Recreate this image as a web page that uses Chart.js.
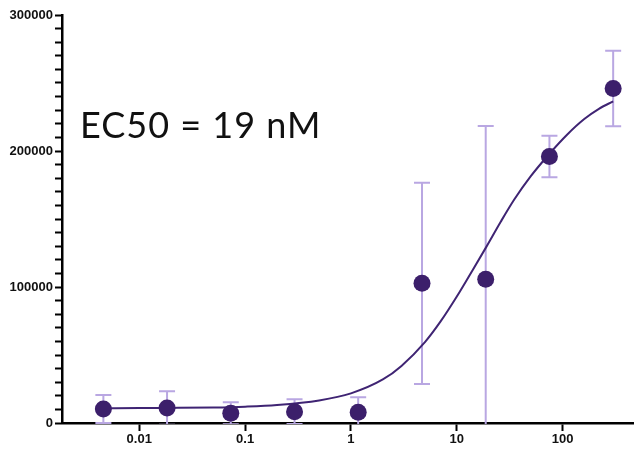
<!DOCTYPE html>
<html>
<head>
<meta charset="utf-8">
<script src="https://cdn.jsdelivr.net/npm/chart.js@4.4.1/dist/chart.umd.min.js"></script>
<style>
  html, body { margin: 0; padding: 0; background: #fff; }
  #wrap { width: 634px; height: 451px; }
</style>
</head>
<body>
<div id="wrap"><canvas id="chart" width="634" height="451"></canvas></div>
<script>
// ====== DATA ======
const concentrations = [0.00458, 0.0183, 0.0732, 0.293, 1.17, 4.69, 18.75, 75, 300];   // nM
const meanSignal     = [10300, 11000, 7100, 8300, 7900, 102700, 105700, 196000, 246000];
const errSignal      = [10300, 12300, 8100, 9100, 11000, 74000, 112700, 15300, 27800];

// fitted curve
const fitX = [0.00458, 0.01, 0.02, 0.05, 0.1, 0.2, 0.5, 1, 2, 3, 5, 7, 10, 14, 19, 26, 35, 50, 75, 110, 160, 220, 300];
const fitY = [10900, 11000, 11100, 11400, 12000, 13200, 16600, 21800, 32000, 42000, 59500, 74500, 93000,
              112000, 129500, 148000, 164500, 181500, 198000, 212000, 223500, 231000, 236500];

const xTickValues = [0.01, 0.1, 1, 10, 100];
const yTickValues = [0, 100000, 200000, 300000];
const annotationText = 'EC50 = 19 nM';

// ====== STYLE ======
const POINT_COLOR = '#3c1f6b';
const CURVE_COLOR = '#3f2473';
const ERR_COLOR   = '#b9a7e2';
const TICK_FONT   = { family: '"Liberation Sans", Arial, sans-serif', size: 13, weight: 'bold' };

// ====== PLUGINS ======
const errorBars = {
  id: 'errorBars',
  beforeDatasetsDraw(chart) {
    const { ctx, chartArea, scales: { x, y } } = chart;
    ctx.save();
    ctx.beginPath();
    ctx.rect(chartArea.left, chartArea.top - 20, chartArea.right - chartArea.left, chartArea.bottom - chartArea.top + 21);
    ctx.clip();
    ctx.strokeStyle = ERR_COLOR;
    ctx.lineWidth = 2;
    concentrations.forEach((c, i) => {
      const px  = x.getPixelForValue(c);
      const top = y.getPixelForValue(meanSignal[i] + errSignal[i]);
      const bot = y.getPixelForValue(meanSignal[i] - errSignal[i]);
      ctx.beginPath();
      ctx.moveTo(px, top); ctx.lineTo(px, bot);
      ctx.moveTo(px - 8, top); ctx.lineTo(px + 8, top);
      ctx.moveTo(px - 8, bot); ctx.lineTo(px + 8, bot);
      ctx.stroke();
    });
    ctx.restore();
  }
};

const annotation = {
  id: 'annotation',
  afterDraw(chart) {
    const ctx = chart.ctx;
    ctx.save();
    ctx.fillStyle = '#111';
    ctx.font = '400 36px Lato, "Open Sans", sans-serif';
    ctx.letterSpacing = '1px';
    ctx.textBaseline = 'alphabetic';
    ctx.fillText(annotationText, 80, 138);
    ctx.restore();
  }
};

// ====== CHART ======
const ctx = document.getElementById('chart').getContext('2d');
new Chart(ctx, {
  type: 'scatter',
  data: {
    datasets: [
      {
        label: 'mean',
        data: concentrations.map((c, i) => ({ x: c, y: meanSignal[i] })),
        backgroundColor: POINT_COLOR,
        borderWidth: 0,
        pointRadius: 8.5,
        clip: false,
        order: 0
      },
      {
        type: 'line',
        label: 'fit',
        data: fitX.map((c, i) => ({ x: c, y: fitY[i] })),
        borderColor: CURVE_COLOR,
        borderWidth: 2,
        pointRadius: 0,
        fill: false,
        cubicInterpolationMode: 'monotone',
        order: 1
      }
    ]
  },
  options: {
    responsive: false,
    animation: false,
    // no point-radius overflow padding: the axis runs to the right edge
    layout: { autoPadding: false, padding: { top: 15, left: 0, right: 0, bottom: 0 } },
    plugins: { legend: { display: false }, tooltip: { enabled: false } },
    scales: {
      x: {
        type: 'logarithmic',
        min: 0.001862,
        max: 472,
        afterBuildTicks: (scale) => { scale.ticks = xTickValues.map(v => ({ value: v })); },
        afterFit: (scale) => { scale.height = 28; scale.paddingLeft = 0; scale.paddingRight = 0; },
        ticks: {
          color: '#111',
          font: TICK_FONT,
          padding: 1,
          autoSkip: false,
          maxRotation: 0,
          callback: (v) => String(v)
        },
        grid: { drawOnChartArea: false, drawTicks: true, tickLength: 8, tickWidth: 2, tickColor: '#000' },
        border: { display: true, color: '#000', width: 2.5 }
      },
      y: {
        min: 0,
        max: 300000,
        afterFit: (scale) => { scale.width = 62; scale.paddingTop = 0; scale.paddingBottom = 0; },
        ticks: {
          stepSize: 10000,
          color: '#111',
          font: TICK_FONT,
          padding: 2,
          autoSkip: false,
          callback: (v) => yTickValues.includes(v) ? String(v) : ''
        },
        grid: { drawOnChartArea: false, drawTicks: true, tickLength: 7, tickWidth: 2, tickColor: '#000' },
        border: { display: true, color: '#000', width: 2.5 }
      }
    }
  },
  plugins: [errorBars, annotation]
});
</script>
</body>
</html>
